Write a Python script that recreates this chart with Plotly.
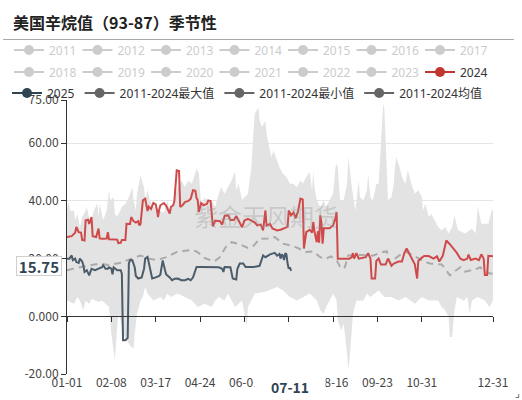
import plotly.graph_objects as go

YEAR = "2024-"

# ---------------- data (season axis in MM-DD, values) ----------------
max_dates = ["01-01","01-02","01-04","01-07","01-08","01-10","01-12","01-14","01-17","01-18","01-21","01-24",
             "01-27","01-28","01-29","01-31","02-01","02-04","02-06","02-07","02-10","02-11","02-13","02-17",
             "02-20","02-23","02-26","02-27","02-29","03-01","03-03","03-04","03-06","03-07","03-08","03-10",
             "03-12","03-15","03-18","03-21","03-24","03-27","03-29","03-31","04-02","04-05","04-08","04-11",
             "04-14","04-17","04-20","04-21","04-23","04-24","04-25","04-28","05-01","05-04","05-07","05-10",
             "05-12","05-15","05-18","05-21","05-24","05-25","05-27","05-30","06-04","06-07","06-09","06-10",
             "06-13","06-14","06-16","06-19","06-20","06-23","06-24","06-26","06-29","07-01","07-04","07-07",
             "07-10","07-13","07-16","07-19","07-21","07-24","07-27","07-29","07-30","07-31","08-02","08-05",
             "08-08","08-10","08-13","08-16","08-18","08-19","08-20","08-22","08-25","08-28","08-29","08-30",
             "09-01","09-04","09-07","09-08","09-11","09-14","09-15","09-17","09-19","09-21","09-22","09-24",
             "09-25","09-26","09-28","09-29","10-01","10-02","10-05","10-07","10-08","10-09","10-12","10-14",
             "10-17","10-19","10-22","10-25","10-28","10-31","11-01","11-03","11-06","11-08","11-11","11-14",
             "11-17","11-20","11-23","11-26","11-28","12-01","12-07","12-13","12-16","12-18","12-21","12-27",
             "12-30","12-31"]
max_values = [37.0,39.6,36.5,36.7,33.3,35.6,30.9,34.4,36.7,37.9,32.1,36.7,
              39.0,34.4,39.0,34.4,33.3,36.7,43.7,40.2,41.3,35.6,34.4,37.9,
              39.0,41.3,44.8,40.2,36.7,42.5,47.0,48.9,46.0,44.8,40.2,43.7,
              40.2,37.9,37.5,36.7,35.8,40.2,36.7,37.9,41.3,44.8,47.1,44.8,
              47.1,46.0,50.6,51.2,49.4,42.5,37.9,41.3,39.5,40.2,37.9,42.5,
              44.8,42.5,44.8,47.1,50.0,43.7,46.0,40.2,42.5,51.7,65.6,70.2,
              72.5,67.9,65.6,67.9,63.3,57.5,55.2,57.5,54.0,51.7,49.4,48.3,
              46.0,46.0,44.8,47.1,46.0,48.3,50.0,43.7,50.6,44.8,40.2,37.9,
              40.2,37.9,40.2,42.5,51.7,52.9,51.7,40.2,40.2,46.0,55.2,51.7,
              44.8,36.7,47.1,41.3,40.2,43.7,49.4,41.3,40.2,43.7,46.0,46.0,
              52.9,63.3,73.7,71.4,46.0,40.2,41.3,46.0,51.7,55.2,51.7,48.3,
              46.0,50.6,46.0,42.5,43.7,41.3,36.7,39.0,34.4,35.6,33.3,31.0,
              29.8,31.0,28.7,31.0,35.0,29.8,28.7,30.4,28.7,37.9,32.1,32.1,
              36.7,37.0]

min_dates = ["01-01","01-07","01-10","01-12","01-15","01-17","01-20","01-22","01-28","01-31","02-03","02-06",
             "02-08","02-10","02-11","02-13","02-14","02-16","02-18","02-21","02-25","02-27","02-28","03-01",
             "03-04","03-06","03-08","03-10","03-15","03-21","03-24","03-27","03-30","04-05","04-11","04-17",
             "04-22","04-28","05-04","05-07","05-10","05-15","05-18","05-24","05-30","06-01","06-03","06-04",
             "06-07","06-10","06-19","06-27","06-29","07-04","07-10","07-16","07-21","07-27","08-02","08-05",
             "08-08","08-10","08-13","08-16","08-19","08-20","08-23","08-25","08-26","08-28","08-29","08-30",
             "09-01","09-02","09-05","09-11","09-14","09-17","09-24","09-29","10-05","10-11","10-17","10-25",
             "10-31","11-06","11-14","11-17","11-20","11-23","11-24","11-26","11-28","11-30","12-06","12-09",
             "12-11","12-13","12-18","12-24","12-28","12-31"]
min_values = [5.5,4.4,6.7,5.5,2.1,5.5,4.4,6.1,5.0,5.5,4.4,3.2,
              -6.0,-12.9,-15.2,-3.7,0.9,-1.4,-6.0,-8.3,-10.6,-11.2,-6.0,0.9,
              5.5,6.7,10.2,7.9,5.5,6.7,5.5,7.9,6.7,7.9,6.7,5.5,
              3.2,4.4,3.2,5.5,6.7,5.5,7.9,3.2,5.5,0.9,-3.7,3.2,
              5.5,7.9,8.5,9.7,10.2,9.0,6.7,5.5,6.7,7.9,5.5,2.1,
              0.9,3.2,5.5,7.9,5.5,-1.4,-4.9,-2.5,-6.0,-12.9,-18.7,-15.2,
              -4.9,0.9,5.5,5.5,7.9,6.7,9.0,6.7,6.7,5.5,6.7,4.4,
              6.7,5.5,5.5,3.2,2.1,-0.2,-7.2,-7.2,2.1,6.7,5.5,6.7,
              0.9,5.5,6.7,5.5,3.2,5.5]

mean_dates = ["01-01","01-06","01-12","01-19","01-29","02-05","02-15","02-22","02-28","03-04","03-11","03-18",
              "03-26","04-04","04-14","04-21","04-28","05-06","05-11","05-16","05-21","05-28","06-04","06-09",
              "06-14","06-21","06-27","07-04","07-10","07-16","07-24","07-30","08-05","08-09","08-14","08-19",
              "08-23","08-26","08-29","09-08","09-19","09-27","10-01","10-04","10-08","10-13","10-18","10-23",
              "10-28","11-02","11-07","11-17","11-21","11-24","11-28","12-03","12-07","12-12","12-16","12-20",
              "12-24","12-29","12-31"]
mean_values = [16.0,16.5,17.0,17.5,18.3,17.8,18.5,19.5,20.5,21.1,20.0,19.5,
               20.5,22.3,22.9,22.5,20.2,19.0,20.5,24.0,25.7,25.0,23.7,24.5,
               26.9,27.0,27.5,25.2,24.6,23.8,22.3,22.5,20.5,19.8,20.8,19.4,
               16.5,17.0,21.1,21.3,21.0,22.3,22.5,18.3,20.0,21.5,22.3,21.2,
               20.0,19.0,18.3,18.0,15.9,14.2,15.5,17.0,15.5,16.0,16.3,17.0,
               15.5,14.8,15.0]

y2024_dates = ["01-01","01-05","01-08","01-09","01-11","01-13","01-14","01-16","01-17","01-19","01-20","01-21",
               "01-22","01-23","01-26","01-28","01-29","01-31","02-04","02-05","02-06","02-13","02-14","02-16",
               "02-17","02-20","02-21","02-24","02-25","02-27","02-29","03-02","03-03","03-04","03-05","03-06",
               "03-08","03-10","03-11","03-13","03-15","03-17","03-18","03-19","03-20","03-21","03-24","03-26",
               "03-29","03-30","04-01","04-02","04-04","04-06","04-07","04-09","04-11","04-14","04-16","04-18",
               "04-20","04-21","04-22","04-23","04-25","04-27","04-30","05-01","05-03","05-04","05-05","05-07",
               "05-11","05-13","05-15","05-18","05-20","05-23","05-25","05-27","05-30","06-01","06-04","06-07",
               "06-10","06-12","06-15","06-17","06-19","06-20","06-23","06-25","06-27","06-29","07-02","07-05",
               "07-08","07-09","07-11","07-13","07-15","07-17","07-19","07-21","07-22","07-24","07-27","07-29",
               "07-30","07-31","08-02","08-03","08-04","08-05","08-06","08-07","08-08","08-13","08-16","08-18",
               "08-19","08-20","08-30","09-01","09-02","09-03","09-05","09-07","09-13","09-15","09-17","09-18",
               "09-21","09-22","09-24","09-26","09-30","10-02","10-05","10-07","10-11","10-14","10-16","10-18",
               "10-20","10-23","10-25","10-27","10-28","10-30","11-02","11-06","11-10","11-13","11-15","11-18",
               "11-20","11-21","11-24","11-27","11-30","12-03","12-06","12-09","12-10","12-12","12-16","12-19",
               "12-21","12-23","12-24","12-26","12-27","12-31"]
y2024_values = [27.5,27.8,29.0,31.0,29.2,29.0,26.5,26.3,33.3,33.5,32.0,33.0,
                34.4,27.8,27.5,30.4,27.0,26.9,27.0,29.2,26.7,26.6,25.4,25.5,
                26.5,26.5,32.1,32.0,34.4,33.0,32.5,33.0,31.5,32.0,36.7,40.2,
                40.8,36.5,38.0,37.2,39.3,38.8,37.0,34.4,37.0,38.5,39.3,38.3,
                35.6,37.9,38.5,40.0,50.6,50.4,37.9,38.5,39.6,40.0,40.8,43.7,
                43.5,41.0,40.2,36.2,39.3,38.5,39.0,40.2,40.0,33.8,31.2,33.2,
                33.0,31.8,34.8,35.0,33.4,33.4,34.8,33.2,30.9,33.2,33.8,33.2,
                32.5,31.5,31.8,29.8,36.7,31.5,32.0,30.5,30.2,29.8,30.0,30.4,
                31.0,36.7,35.0,36.0,34.0,36.5,40.8,40.5,23.5,29.2,30.0,29.0,
                32.7,29.5,25.7,29.5,25.5,35.0,32.5,25.2,30.5,30.5,31.5,34.0,
                36.1,20.0,20.0,20.5,21.9,20.0,21.9,20.0,20.5,21.9,20.0,13.1,
                13.1,19.2,20.0,18.0,18.0,20.0,17.5,18.3,19.0,19.0,21.9,23.5,
                21.9,20.0,18.0,13.1,19.2,20.0,20.9,20.9,20.0,20.8,19.0,21.0,
                24.6,26.3,25.0,23.5,22.0,20.0,19.5,20.0,21.4,19.5,20.0,19.5,
                21.5,20.0,14.3,14.3,21.0,20.8]

y2025_dates = ["01-01","01-03","01-05","01-06","01-08","01-09","01-11","01-12","01-14","01-15","01-16","01-18",
               "01-20","01-22","01-25","01-28","01-31","02-01","02-03","02-05","02-06","02-08","02-09","02-10",
               "02-13","02-16","02-17","02-18","02-20","02-22","02-23","02-24","02-26","02-28","02-29","03-02",
               "03-05","03-07","03-08","03-10","03-11","03-12","03-14","03-17","03-20","03-21","03-23","03-25",
               "03-26","03-29","03-31","04-02","04-05","04-08","04-11","04-14","04-16","04-18","04-20","04-21",
               "04-25","04-30","05-05","05-10","05-13","05-14","05-15","05-20","05-22","05-25","05-26","05-28",
               "05-31","06-02","06-09","06-14","06-17","06-19","06-23","06-27","06-29","07-01","07-02","07-03",
               "07-04","07-05","07-06","07-07","07-08","07-09","07-10","07-11"]
y2025_values = [20.0,20.0,21.1,19.5,20.0,18.8,18.5,20.0,19.0,17.7,15.4,16.0,
                14.2,16.5,16.0,16.5,17.0,17.7,16.5,16.5,17.0,16.5,14.6,17.0,
                16.0,16.0,14.8,-8.3,-8.3,-7.5,18.3,19.4,19.4,17.0,14.0,13.1,
                13.5,16.5,20.0,20.6,18.5,16.5,13.1,13.5,14.0,14.5,19.4,16.0,
                14.5,13.5,12.5,13.0,13.1,12.5,12.5,13.0,12.5,13.5,16.0,17.1,
                17.1,17.0,17.1,17.0,16.5,15.4,17.1,17.0,13.1,12.8,16.5,18.3,
                18.3,17.1,17.1,17.5,21.1,20.5,21.5,22.0,21.0,21.6,20.0,21.5,
                21.0,19.5,21.9,21.5,18.3,16.5,17.0,15.75]

tick_dates = ["01-01","02-08","03-17","04-24","06-01","07-09","08-16","09-23","10-31","12-31"]
y_tickvals = [-20, 0, 20, 40, 60, 75]
y_ticktext = ["-20.00", "0.000", "20.00", "40.00", "60.00", "75.00"]

legend_row1 = ["2011", "2012", "2013", "2014", "2015", "2016", "2017"]
legend_row2 = ["2018", "2019", "2020", "2021", "2022", "2023"]
stat_names = ["2011-2024最大值", "2011-2024最小值", "2011-2024均值"]

pointer_date = "07-11"
pointer_value = "15.75"

# ---------------- styling ----------------
C_2024 = "#cf4a4a"
C_2025 = "#4b5c6b"
C_MEAN = "#aaaaaa"
C_BAND = "#e3e3e3"
C_OFF = "#cccccc"
FONT = "Noto Sans CJK SC"
LEG_FONT = "Noto Sans, Noto Sans CJK SC"


def d(lst):
    return [YEAR + s for s in lst]


fig = go.Figure()

# band (min then max filled to it)
fig.add_trace(go.Scatter(x=d(min_dates), y=min_values, mode="lines",
                         line=dict(width=0, color=C_BAND), showlegend=False,
                         hoverinfo="skip", legendgroup="min"))
fig.add_trace(go.Scatter(x=d(max_dates), y=max_values, mode="lines",
                         line=dict(width=0, color=C_BAND), fill="tonexty",
                         fillcolor=C_BAND, showlegend=False, legendgroup="max"))
fig.add_trace(go.Scatter(x=d(mean_dates), y=mean_values, mode="lines",
                         line=dict(color=C_MEAN, width=2, dash="7px,5px"),
                         showlegend=False, legendgroup="mean"))
fig.add_trace(go.Scatter(x=d(y2024_dates), y=y2024_values, mode="lines",
                         line=dict(color=C_2024, width=2), showlegend=False,
                         legendgroup="2024"))
fig.add_trace(go.Scatter(x=d(y2025_dates), y=y2025_values, mode="lines",
                         xaxis="x2",
                         line=dict(color=C_2025, width=2), showlegend=False,
                         legendgroup="2025"))


# legend entries
def leg(name, color, legend, group, text_color=None):
    label = name if text_color is None else f"<span style='color:{text_color}'>{name}</span>"
    fig.add_trace(go.Scatter(x=[None], y=[None], mode="lines+markers", name=label,
                             line=dict(color=color, width=2),
                             marker=dict(color=color, size=10),
                             legend=legend, legendgroup=group))


for n in legend_row1:
    leg(n, C_OFF, "legend", n, C_OFF)
for n in legend_row2:
    leg(n, C_OFF, "legend2", n, C_OFF)
leg("2024", "#c23531", "legend2", "2024")
leg("2025", "#2f4554", "legend3", "2025")
leg(stat_names[0], "#666666", "legend3", "max")
leg(stat_names[1], "#666666", "legend3", "min")
leg(stat_names[2], "#666666", "legend3", "mean")

L, R, T, B = 67, 29, 100, 26
PW, PH = 522 - L - R, 400 - T - B


def px_x(p):
    return (p - L) / PW


def px_y(p):
    return 1 - (p - T) / PH


def legend_box(x, y, ew):
    return dict(orientation="h", xanchor="left", yanchor="middle", x=x, y=y,
                entrywidth=ew, bgcolor="rgba(0,0,0,0)",
                font=dict(family=LEG_FONT, size=12, color="#333"),
                itemclick=False, itemdoubleclick=False, tracegroupgap=0)


fig.update_layout(
    width=522, height=400,
    margin=dict(l=L, r=R, t=T, b=B, autoexpand=False),
    paper_bgcolor="white", plot_bgcolor="white",
    font=dict(family=FONT, size=12, color="#444"),
    legend=legend_box(px_x(9), px_y(50), 23.5),
    legend2=legend_box(px_x(9), px_y(72), 23.5),
    legend3=legend_box(px_x(7), px_y(93), 0),
    xaxis=dict(type="date", range=[YEAR + "01-01", YEAR + "12-31"],
               tickvals=d(tick_dates), ticktext=tick_dates,
               showgrid=False, showline=False, ticks="", zeroline=False,
               tickfont=dict(size=12, color="#444")),
    xaxis2=dict(type="date", range=[YEAR + "01-01", YEAR + "12-31"], overlaying="x",
                anchor="free", position=20 / 95, side="bottom",
                tickvals=d(tick_dates), showticklabels=False, showgrid=False,
                showline=True, linecolor="#333", linewidth=1,
                ticks="outside", ticklen=5, tickcolor="#333", zeroline=False),
    yaxis=dict(range=[-20, 75], tickvals=y_tickvals, ticktext=y_ticktext,
               showgrid=True, gridcolor="#e6e6e6", zeroline=False,
               showline=True, linecolor="#333", linewidth=1,
               ticks="outside", ticklen=5, tickcolor="#333",
               tickfont=dict(size=12, color="#444")),
    hovermode=False,
)

fig.add_shape(type="line", xref="paper", yref="paper",
              x0=px_x(3), x1=px_x(514), y0=px_y(39.5), y1=px_y(39.5),
              line=dict(color="#aaaaaa", width=1))

fig.add_annotation(text="<b>美国辛烷值（93-87）季节性</b>", xref="paper", yref="paper",
                   x=px_x(11), y=px_y(22), xanchor="left", yanchor="middle",
                   showarrow=False, font=dict(family=FONT, size=16, color="#222"))

fig.add_annotation(text="紫金天风期货", xref="paper", yref="paper",
                   x=px_x(266), y=px_y(215), xanchor="center", yanchor="middle",
                   showarrow=False, font=dict(family=FONT, size=24, color="rgba(150,150,150,0.35)"))

fig.add_annotation(text="<b>" + pointer_date + "</b>", xref="x", yref="paper",
                   x=YEAR + pointer_date, y=px_y(386.5), xanchor="center", yanchor="middle",
                   xshift=-1.5, showarrow=False, bgcolor="white", width=68, height=20,
                   font=dict(family=FONT, size=14, color="#2f4554"))

fig.add_annotation(text="<b>" + pointer_value + "</b>", xref="paper", yref="y",
                   x=px_x(62), y=17.3, xanchor="right", yanchor="middle",
                   showarrow=False, bgcolor="white", bordercolor="#d0d0d0", borderwidth=1,
                   borderpad=1, width=42, height=16,
                   font=dict(family=FONT, size=15, color="#2f4554"))

fig.add_annotation(text="⌟", xref="paper", yref="paper",
                   x=px_x(517), y=px_y(393), xanchor="center", yanchor="middle",
                   showarrow=False, font=dict(family="DejaVu Sans", size=11, color="#555"))

fig.write_html("out.html", config={"displayModeBar": False},
               post_script="document.body.style.margin='0px';")
